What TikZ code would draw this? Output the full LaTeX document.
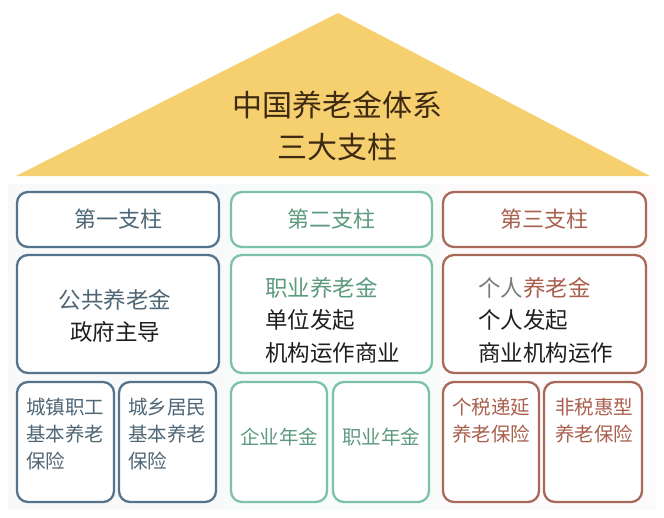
\documentclass[tikz,border=0pt]{standalone}
\usepackage{fontspec}
\setmainfont{Noto Sans CJK SC}
\definecolor{roof}{HTML}{F6D06F}
\definecolor{rooftext}{HTML}{3E2A12}
\definecolor{cblue}{HTML}{55748C}
\definecolor{tblue}{HTML}{4F6676}
\definecolor{cgreen}{HTML}{7CC2A6}
\definecolor{tgreen}{HTML}{5E9A80}
\definecolor{cred}{HTML}{A8695A}
\definecolor{tred}{HTML}{A9604E}
\definecolor{tgrey}{HTML}{7C7C7C}
\definecolor{ink}{HTML}{1E1E1E}
\begin{document}
\begin{tikzpicture}[x=1pt,y=-1pt,
  pbox/.style={draw=#1, rounded corners=11pt, line width=2.3pt, fill=white, inner sep=0pt},
  hdr/.style={font=\fontsize{22}{26}\selectfont, text=#1, inner sep=0pt},
  mid/.style={font=\fontsize{22.5}{32.5}\selectfont, inner sep=0pt, align=left},
  sub/.style={font=\fontsize{19.5}{27}\selectfont, text=#1, inner sep=0pt, align=left}
]
\useasboundingbox (0,0) rectangle (664,517);
\fill[white] (0,0) rectangle (664,517);
% faint column glow
\fill[cblue!4] (8,184) rectangle (226,510);
\fill[cgreen!6] (224,184) rectangle (440,510);
\fill[cred!3] (437,184) rectangle (656,510);
% roof
\coordinate (apex) at (338,13);
\coordinate (bl) at (16,176);
\coordinate (br) at (650,176);
\fill[roof] (apex) -- (br) -- (bl) -- cycle;
\node[font=\fontsize{30}{42}\selectfont, text=rooftext, align=center, inner sep=0pt] (title) at (337,126) {中国养老金体系\\三大支柱};
% headers
\node[pbox=cblue, minimum width=202pt, minimum height=55pt] (h1) at (118,219.5) {};
\node[pbox=cgreen, minimum width=201pt, minimum height=55pt] (h2) at (331.5,219.5) {};
\node[pbox=cred, minimum width=203pt, minimum height=55pt] (h3) at (544.5,219.5) {};
\node[hdr=tblue] (h1t) at (h1) {第一支柱};
\node[hdr=tgreen] (h2t) at (h2) {第二支柱};
\node[hdr=tred] (h3t) at (h3) {第三支柱};
% middle row
\node[pbox=cblue, minimum width=202pt, minimum height=118pt] (m1) at (118,314) {};
\node[pbox=cgreen, minimum width=201pt, minimum height=118pt] (m2) at (331.5,314) {};
\node[pbox=cred, minimum width=203pt, minimum height=118pt] (m3) at (544.5,314) {};
\node[mid, align=center] (m1t) at (115,316) {\textcolor{tblue}{公共养老金}\\\textcolor{ink}{政府主导}};
\node[mid, anchor=west] (m2t) at (265,320) {\textcolor{tgreen}{职业养老金}\\\textcolor{ink}{单位发起}\\\textcolor{ink}{机构运作商业}};
\node[mid, anchor=west] (m3t) at (478,320) {\textcolor{tgrey}{个人}\textcolor{tred}{养老金}\\\textcolor{ink}{个人发起}\\\textcolor{ink}{商业机构运作}};
% bottom row
\node[pbox=cblue, minimum width=97pt, minimum height=120pt] (b1) at (65.5,442) {};
\node[pbox=cblue, minimum width=97pt, minimum height=120pt] (b2) at (167.5,442) {};
\node[pbox=cgreen, minimum width=96pt, minimum height=120pt] (b3) at (279,442) {};
\node[pbox=cgreen, minimum width=96pt, minimum height=120pt] (b4) at (381,442) {};
\node[pbox=cred, minimum width=96pt, minimum height=120pt] (b5) at (491,442) {};
\node[pbox=cred, minimum width=98pt, minimum height=120pt] (b6) at (593,442) {};
\node[sub=tblue, anchor=north west] (b1t) at (26,398) {城镇职工\\基本养老\\保险};
\node[sub=tblue, anchor=north west] (b2t) at (128,398) {城乡居民\\基本养老\\保险};
\node[sub=tgreen] (b3t) at (279,437) {企业年金};
\node[sub=tgreen] (b4t) at (381,437) {职业年金};
\node[sub=tred, anchor=north west] (b5t) at (452,398) {个税递延\\养老保险};
\node[sub=tred, anchor=north west] (b6t) at (555,398) {非税惠型\\养老保险};
\end{tikzpicture}
\end{document}
